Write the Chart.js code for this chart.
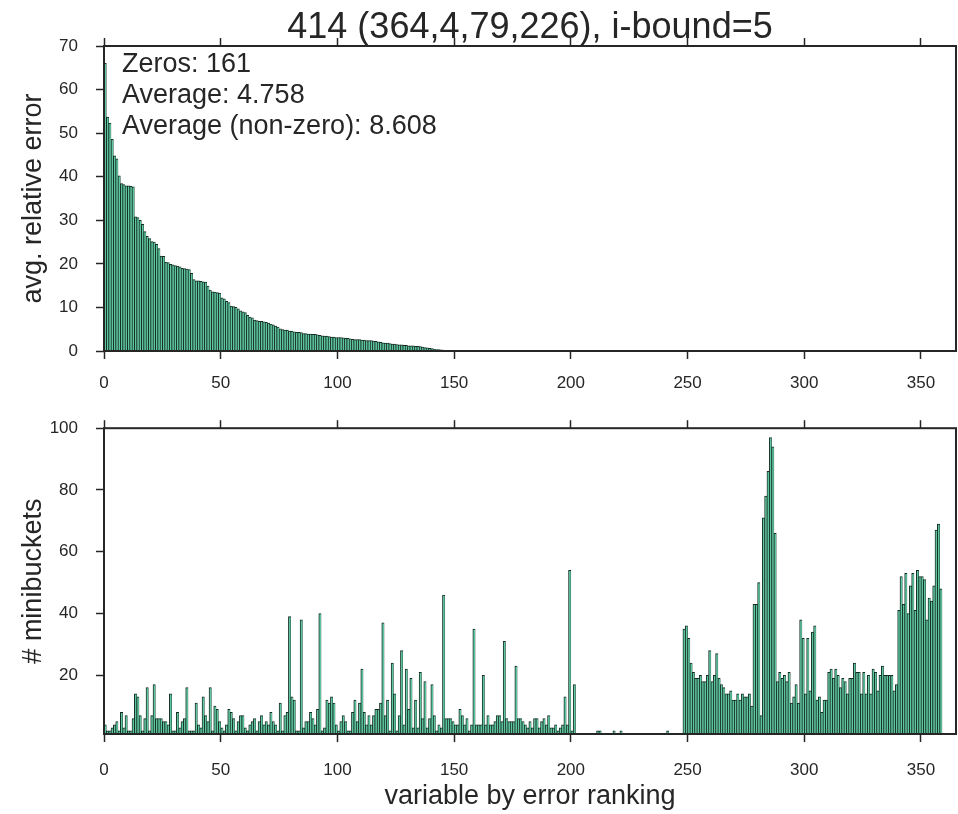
<!DOCTYPE html>
<html><head><meta charset="utf-8">
<script src="https://cdn.jsdelivr.net/npm/chart.js@4.4.1/dist/chart.umd.min.js"></script>
<style>
html,body{margin:0;padding:0;background:#ffffff;}
#wrap{position:relative;width:958px;height:814px;overflow:hidden;}
canvas{position:absolute;left:0;}
#c1{top:0;}
#c2{top:400px;}
</style></head><body>
<div id="wrap">
<canvas id="c1" width="958" height="400"></canvas>
<canvas id="c2" width="958" height="414"></canvas>
</div>
<script>
const chartTitle = '414 (364,4,79,226), i-bound=5';
const statLines = ['Zeros: 161', 'Average: 4.758', 'Average (non-zero): 8.608'];
const topYLabel = 'avg. relative error';
const bottomYLabel = '# minibuckets';
const xLabel = 'variable by error ranking';
const xTicks = [0, 50, 100, 150, 200, 250, 300, 350];
const errYTicks = [0, 10, 20, 30, 40, 50, 60, 70];
const bucketYTicks = [20, 40, 60, 80, 100];

// avg. relative error per variable (sorted), 364 variables
const avgRelError = [
66.0,53.7,52.3,48.6,44.8,44.1,40.2,38.4,38.2,37.9,
37.9,37.8,37.7,30.8,30.6,30.0,29.1,27.4,26.3,25.8,
25.1,25.0,24.5,23.5,21.8,21.7,20.4,20.3,19.9,19.8,
19.6,19.5,19.3,19.0,18.9,18.8,18.7,17.8,16.4,16.1,
16.1,16.0,15.9,15.8,14.9,14.0,13.6,13.5,13.4,13.3,
12.2,12.0,11.4,11.1,10.3,10.2,10.0,9.7,9.2,9.0,
8.8,8.2,7.8,7.6,7.1,7.0,6.8,6.8,6.7,6.6,
6.4,6.2,6.0,5.7,5.5,5.1,4.9,4.8,4.8,4.6,
4.6,4.4,4.3,4.3,4.2,4.0,4.0,3.9,3.9,3.8,
3.8,3.7,3.6,3.5,3.4,3.4,3.3,3.2,3.2,3.1,
3.1,3.1,3.0,2.9,2.9,2.8,2.7,2.6,2.6,2.6,
2.5,2.5,2.4,2.4,2.4,2.3,2.2,2.1,2.0,1.9,
1.8,1.8,1.7,1.6,1.6,1.5,1.4,1.4,1.3,1.3,
1.2,1.2,1.2,1.1,1.1,1.0,0.9,0.8,0.7,0.6,
0.55,0.45,0.35,0.3,0.25,0.2,0.15,0.1,0.08,0.07,
0.06,0.06,0.05,0.05,0.05,0.04,0.04,0.04,0.04,0.03,
0.03,0.03,0.03,0.03,0.03,0.02,0.02,0.02,0.02,0.02,
0.02,0.02,0.02,0.02,0.015,0.015,0.015,0.015,0.015,0.015,
0.01,0.01,0.01,0.01,0.01,0.01,0.01,0.01,0.01,0.01,
0.01,0.01,0.008,0.008,0.008,0.006,0.006,0.005,0.004,0.003,
0.002,0.002,0.001,0,0,0,0,0,0,0,
0,0,0,0,0,0,0,0,0,0,
0,0,0,0,0,0,0,0,0,0,
0,0,0,0,0,0,0,0,0,0,
0,0,0,0,0,0,0,0,0,0,
0,0,0,0,0,0,0,0,0,0,
0,0,0,0,0,0,0,0,0,0,
0,0,0,0,0,0,0,0,0,0,
0,0,0,0,0,0,0,0,0,0,
0,0,0,0,0,0,0,0,0,0,
0,0,0,0,0,0,0,0,0,0,
0,0,0,0,0,0,0,0,0,0,
0,0,0,0,0,0,0,0,0,0,
0,0,0,0,0,0,0,0,0,0,
0,0,0,0,0,0,0,0,0,0,
0,0,0,0,0,0,0,0,0,0,
0,0,0,0
];

// # minibuckets per variable, same ordering
const miniBuckets = [
4,2,2,3,4,5,2,8,3,7,
2,2,6,14,13,7,2,6,16,2,
7,17,6,6,6,5,5,4,14,2,
2,8,3,5,6,16,2,2,2,11,
4,3,13,7,5,16,2,10,9,5,
3,2,4,9,8,6,2,5,7,7,
3,2,4,5,6,2,5,7,4,5,
4,8,5,4,2,11,2,7,8,39,
13,12,2,2,38,3,5,5,8,6,
4,9,40,2,3,12,11,13,11,4,
2,5,7,5,2,2,8,12,5,11,
22,8,4,7,4,7,9,9,11,37,
7,12,2,24,14,2,7,28,4,22,
9,19,3,12,3,21,6,18,3,6,
17,7,2,4,3,46,6,6,6,5,
4,4,9,7,4,6,2,4,35,4,
4,4,20,4,7,4,4,5,7,7,
5,31,6,5,5,5,23,6,6,5,
4,3,5,3,6,6,3,5,6,4,
7,3,3,4,2,3,4,13,4,54,
2,17,1,1,1,1,1,1,1,1,
1,2,2,1,1,1,1,1,2,1,
1,2,1,1,1,1,1,1,1,1,
1,1,1,1,1,1,1,1,1,1,
1,2,1,1,1,1,1,1,35,36,
32,24,21,19,19,20,18,18,20,28,
18,20,27,19,17,16,14,14,15,12,
12,14,12,14,13,13,14,10,43,43,
50,7,71,78,86,97,94,66,18,21,
19,20,18,21,11,13,17,11,38,32,
14,32,15,34,36,12,13,8,12,12,
21,22,19,22,20,16,19,18,14,19,
19,24,21,21,14,21,14,20,14,22,
21,15,20,23,20,20,20,20,15,17,
41,52,43,53,40,49,53,41,54,52,
52,51,38,45,44,49,67,69,48
];

const FONT = 'Liberation Sans';
const INK = '#262626';
Chart.defaults.font.family = FONT;
Chart.defaults.color = INK;

const framePlugin = {
  id: 'frame',
  afterDatasetsDraw(chart) {
    const {left, top, right, bottom} = chart.chartArea;
    const ctx = chart.ctx;
    ctx.save();
    ctx.strokeStyle = INK;
    ctx.lineWidth = 2;
    ctx.strokeRect(left, top, right - left, bottom - top);
    ctx.restore();
  }
};
const textPlugin = {
  id: 'textOverlay',
  afterDraw(chart, args, opts) {
    const ctx = chart.ctx;
    (opts.items || []).forEach(it => {
      ctx.save();
      ctx.font = it.size + 'px "' + FONT + '"';
      ctx.fillStyle = INK;
      ctx.textAlign = it.align;
      ctx.textBaseline = 'alphabetic';
      ctx.fillText(it.text, it.x(chart.chartArea), it.y);
      ctx.restore();
    });
  }
};

function tickSetter(list) {
  return axis => { axis.ticks = list.map(v => ({value: v})); };
}
const gridOpts = {display: true, drawOnChartArea: false, drawTicks: true, tickLength: 8,
  tickColor: INK, tickWidth: 1.5, offset: false};

function makeChart(id, values, yMin, yMax, yTicks, yTitle, opts) {
  return new Chart(document.getElementById(id), {
    type: 'bar',
    data: {
      datasets: [{
        data: values.map((v, i) => ({x: i + 0.5, y: v})),
        backgroundColor: '#5ec7a0',
        borderColor: '#142a22',
        borderWidth: {left: 0.95, right: 0.45, top: 1.0, bottom: 0},
        borderSkipped: 'start',
        categoryPercentage: 1.0,
        barPercentage: 1.0
      }]
    },
    options: {
      responsive: false,
      animation: false,
      events: [],
      layout: {padding: {left: 0, right: 2, top: 0, bottom: 0}},
      plugins: {
        legend: {display: false},
        tooltip: {enabled: false},
        title: {display: false},
        textOverlay: {items: opts.texts}
      },
      scales: {
        x: {
          type: 'linear', position: 'bottom', min: 0, max: 365, offset: false,
          afterBuildTicks: tickSetter(xTicks),
          afterFit: a => { a.height = opts.xHeight; },
          grid: gridOpts, border: {display: false},
          ticks: {autoSkip: false, maxRotation: 0, padding: opts.xPad, font: {size: 17}, color: INK},
          title: opts.xTitle ? {display: true, text: opts.xTitle, font: {size: 27, lineHeight: 1.2}, color: INK,
                   padding: {top: 0, bottom: 1.2}} : {display: false}
        },
        xTop: {
          type: 'linear', position: 'top', min: 0, max: 365, offset: false,
          afterBuildTicks: tickSetter(xTicks),
          afterFit: a => { a.height = opts.topHeight; },
          grid: gridOpts, border: {display: false},
          ticks: {display: false}
        },
        y: {
          type: 'linear', position: 'left', min: yMin, max: yMax,
          afterBuildTicks: tickSetter(yTicks),
          afterFit: a => { a.width = 104; },
          grid: gridOpts, border: {display: false},
          ticks: {padding: 18, font: {size: 17}, color: INK},
          title: {display: true, text: yTitle, font: {size: 27, lineHeight: 1.2}, color: INK,
                  padding: {top: 17.4, bottom: 0}}
        }
      }
    },
    plugins: [framePlugin, textPlugin]
  });
}

makeChart('c1', avgRelError, 0, 70, errYTicks, topYLabel, {
  xHeight: 49, topHeight: 46, xPad: 13.8, xTitle: null,
  texts: [
    {text: chartTitle, size: 36, align: 'center', x: ca => (ca.left + ca.right) / 2, y: 37.5},
    {text: statLines[0], size: 27, align: 'left', x: ca => ca.left + 18, y: 72.3},
    {text: statLines[1], size: 27, align: 'left', x: ca => ca.left + 18, y: 103.3},
    {text: statLines[2], size: 27, align: 'left', x: ca => ca.left + 18, y: 134.3}
  ]
});
makeChart('c2', miniBuckets, 1, 100, bucketYTicks, bottomYLabel, {
  xHeight: 80, topHeight: 28, xPad: 17.8, xTitle: xLabel, texts: []
});
</script>
</body></html>
